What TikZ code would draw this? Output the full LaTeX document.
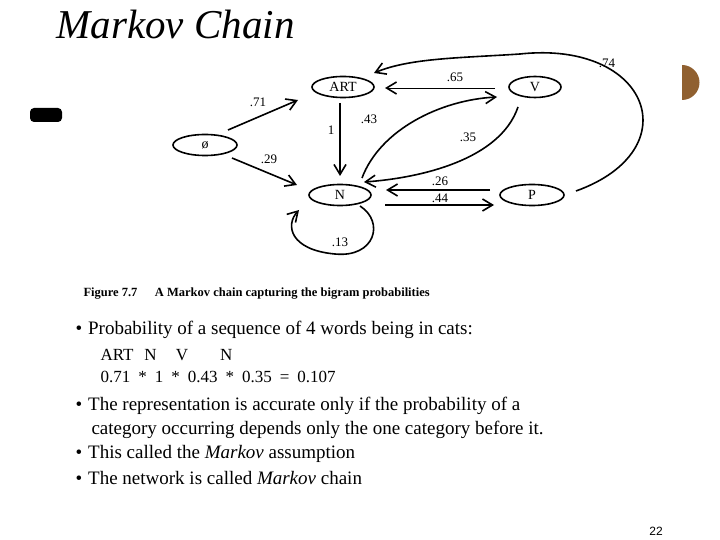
\documentclass[tikz,border=0pt]{standalone}
\usepackage{fontspec}
\setmainfont{Liberation Serif}
\newfontfamily\sansf{Liberation Sans}
\usetikzlibrary{shapes.geometric,arrows.meta}
\begin{document}
\begin{tikzpicture}[x=1pt,y=-1pt,
  st/.style={ellipse,draw,line width=1.6pt,minimum height=21pt,inner sep=0pt,font=\fontsize{14}{14}\selectfont},
  ed/.style={line width=1.6pt,-{Straight Barb[length=10pt,width=12pt,line width=1.6pt]}},
  lb/.style={font=\fontsize{13}{13}\selectfont},
  bul/.style={anchor=base west,font=\fontsize{19}{20}\selectfont,align=left}]
\useasboundingbox (0,0) rectangle (720,540);
\node[anchor=base west,font=\fontsize{41}{41}\selectfont\itshape] (title) at (53,39) {Markov Chain};
\fill[black,rounded corners=4pt] (30,108) rectangle (62,122);
\fill[brown!75!black] (682,100) arc (90:-90:17.5) -- cycle;
\node[st,minimum width=62pt] (art) at (343,87) {ART};
\node[st,minimum width=52pt] (v) at (535,87) {V};
\node[st,minimum width=64pt] (phi) at (205,145) {ø};
\node[st,minimum width=62pt] (n) at (340,195) {N};
\node[st,minimum width=64pt] (p) at (532,195) {P};
\coordinate (a1) at (228,130); \coordinate (a2) at (298,100);
\draw[ed] (a1) -- (a2); \node[lb] (l71) at (258,102) {.71};
\coordinate (b1) at (232,158); \coordinate (b2) at (297,185);
\draw[ed] (b1) -- (b2); \node[lb] (l29) at (269,159) {.29};
\coordinate (c1) at (340,103); \coordinate (c2) at (340,176);
\draw[ed] (c1) -- (c2); \node[lb] (l1) at (331,130) {1};
\coordinate (d1) at (495,88); \coordinate (d2) at (385,88);
\draw[ed,line width=0.7pt] (d1) -- (d2); \node[lb] (l65) at (455,77) {.65};
\coordinate (e1) at (362,178); \coordinate (e2) at (497,97);
\draw[ed] (e1) .. controls (380,130) and (440,100) .. (e2); \node[lb] (l43) at (369,119) {.43};
\coordinate (f1) at (518,107); \coordinate (f2) at (364,182);
\draw[ed] (f1) .. controls (500,160) and (420,178) .. (f2); \node[lb] (l35) at (468,137) {.35};
\coordinate (g1) at (490,190); \coordinate (g2) at (386,190);
\draw[ed] (g1) -- (g2); \node[lb] (l26) at (440,181) {.26};
\coordinate (h1) at (385,205); \coordinate (h2) at (494,205);
\draw[ed] (h1) -- (h2); \node[lb] (l44) at (440,198) {.44};
\coordinate (i1) at (576,191); \coordinate (i2) at (374,73);
\draw[ed] (i1) .. controls (690,150) and (650,40) .. (520,54) .. controls (460,58) and (410,58) .. (i2);
\node[lb] (l74) at (607,63) {.74};
\coordinate (j1) at (360,206); \coordinate (j2) at (299,210);
\draw[ed] (j1) .. controls (385,222) and (375,258) .. (335,254) .. controls (290,250) and (285,225) .. (j2);
\node[lb] (l13) at (340,242) {.13};
\node[anchor=base west,font=\fontsize{12.5}{12}\selectfont\bfseries] (cap) at (80,296) {Figure 7.7\hspace{1.4em}A Markov chain capturing the bigram probabilities};
\node[bul] (b1t) at (72,334) {•\hspace{6pt}Probability of a sequence of 4 words being in cats:};
\node[anchor=base west,font=\fontsize{17}{17}\selectfont] (s1) at (97,360) {ART\hspace{11pt}N\hspace{19pt}V\hspace{32pt}N};
\node[anchor=base west,font=\fontsize{17}{17}\selectfont] (s2) at (97,382) {\spaceskip=8pt 0.71 * 1 * 0.43 * 0.35 = 0.107};
\node[bul] (b2t) at (72,410) {•\hspace{6pt}The representation is accurate only if the probability of a};
\node[bul] (b2u) at (88,434) {category occurring depends only the one category before it.};
\node[bul] (b3t) at (72,458) {•\hspace{6pt}This called the \textit{Markov} assumption};
\node[bul] (b4t) at (72,484) {•\hspace{6pt}The network is called \textit{Markov} chain};
\node[anchor=base,font=\sansf\fontsize{12}{12}\selectfont] (pg) at (656,535) {22};
\end{tikzpicture}
\end{document}
